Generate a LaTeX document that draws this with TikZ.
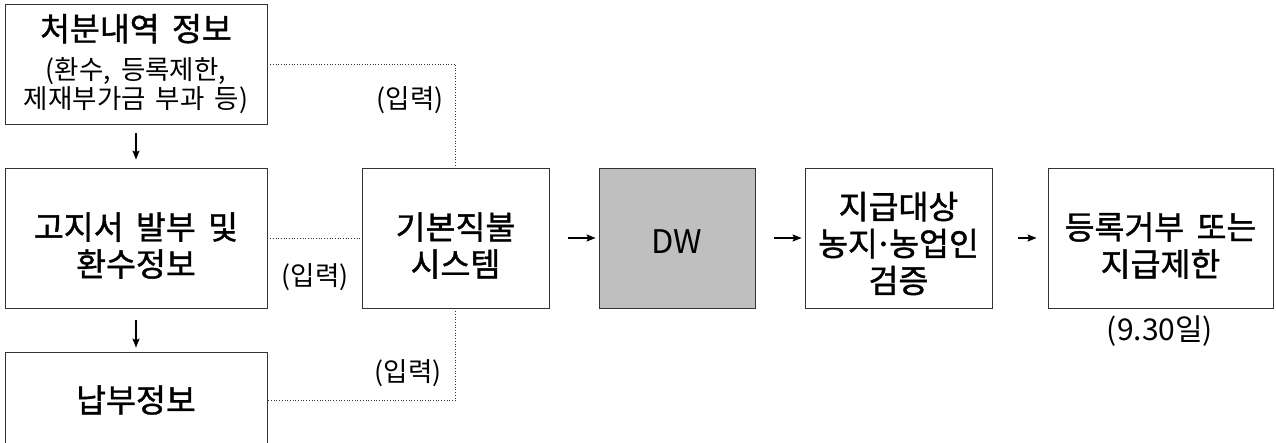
\documentclass[tikz,border=0pt]{standalone}
\usepackage{fontspec}
\setmainfont{Noto Sans CJK KR}[WordSpace=1.7]
\newfontfamily\krmed{Noto Sans CJK KR}[FakeBold=1.2, WordSpace=1.7]
\newcommand{\dn}[1]{\rule{0pt}{#1}}
\usetikzlibrary{arrows.meta}
\begin{document}
\begin{tikzpicture}[x=1pt,y=-1pt,
  box/.style={draw=black!80, line width=0.8pt, align=center, inner sep=0pt},
  big/.style={font=\krmed\fontsize{32.5}{37}\selectfont},
  arr/.style={-{Stealth[length=9pt,width=7pt,inset=1.5pt]}, line width=1.4pt},
  dotl/.style={line width=0.7pt, dotted, black!80},
  lab/.style={font=\fontsize{26.5}{30}\selectfont, inner sep=0pt}]
\useasboundingbox (0,0) rectangle (1276,442);
\begin{scope}
\clip (0,0) rectangle (1276,442);
\node[box, font=\fontsize{26.5}{29}\selectfont, minimum width=262, minimum height=120] (b1) at (136,64)
  {{\krmed\fontsize{32.5}{39}\selectfont 처분내역 정보}\\[10pt](환수, 등록제한,\\제재부가금 부과 등)};
\node[box, big, minimum width=262, minimum height=140] (b2) at (136,238) {\dn{42pt}고지서 발부 및\\환수정보};
\node[box, big, minimum width=262, minimum height=96] (b3) at (136,400) {납부정보};
\node[box, big, minimum width=187, minimum height=140] (sys) at (455.5,238) {\dn{42pt}기본직불\\시스템};
\node[box, font=\fontsize{32.5}{37}\selectfont, fill=black!25, minimum width=156, minimum height=140] (dw) at (677,238) {\dn{30pt}DW};
\node[box, big, minimum width=187, minimum height=140] (chk) at (898.5,238) {\dn{38pt}지급대상\\농지\kern-3.5pt·\kern-3.5pt농업인\\검증};
\node[box, big, minimum width=225, minimum height=140] (res) at (1160.5,238) {\dn{42pt}등록거부 또는\\지급제한};
\end{scope}
\draw[arr, shorten <=9pt, shorten >=8pt] (b1.south) -- (b2.north);
\draw[arr, shorten <=12pt, shorten >=4pt] (b2.south) -- (b3.north);
\draw[arr, shorten <=19pt, shorten >=3pt] (sys.east) -- (dw.west);
\draw[arr, shorten <=19pt, shorten >=3pt] (dw.east) -- (chk.west);
\draw[arr, shorten <=26pt, shorten >=11pt] (chk.east) -- (res.west);
\draw[dotl] (b1.east) -| (sys.north);
\draw[dotl] (b2.east) -- (sys.west);
\draw[dotl] (sys.south) |- (b3.east);
\node[lab] (l1) at (410,100) {(입력)};
\node[lab] (l2) at (315,277) {(입력)};
\node[lab] (l3) at (408,373) {(입력)};
\node[lab, font=\fontsize{30}{32}\selectfont] (l4) at (1160,331) {(9.30일)};
\end{tikzpicture}
\end{document}
